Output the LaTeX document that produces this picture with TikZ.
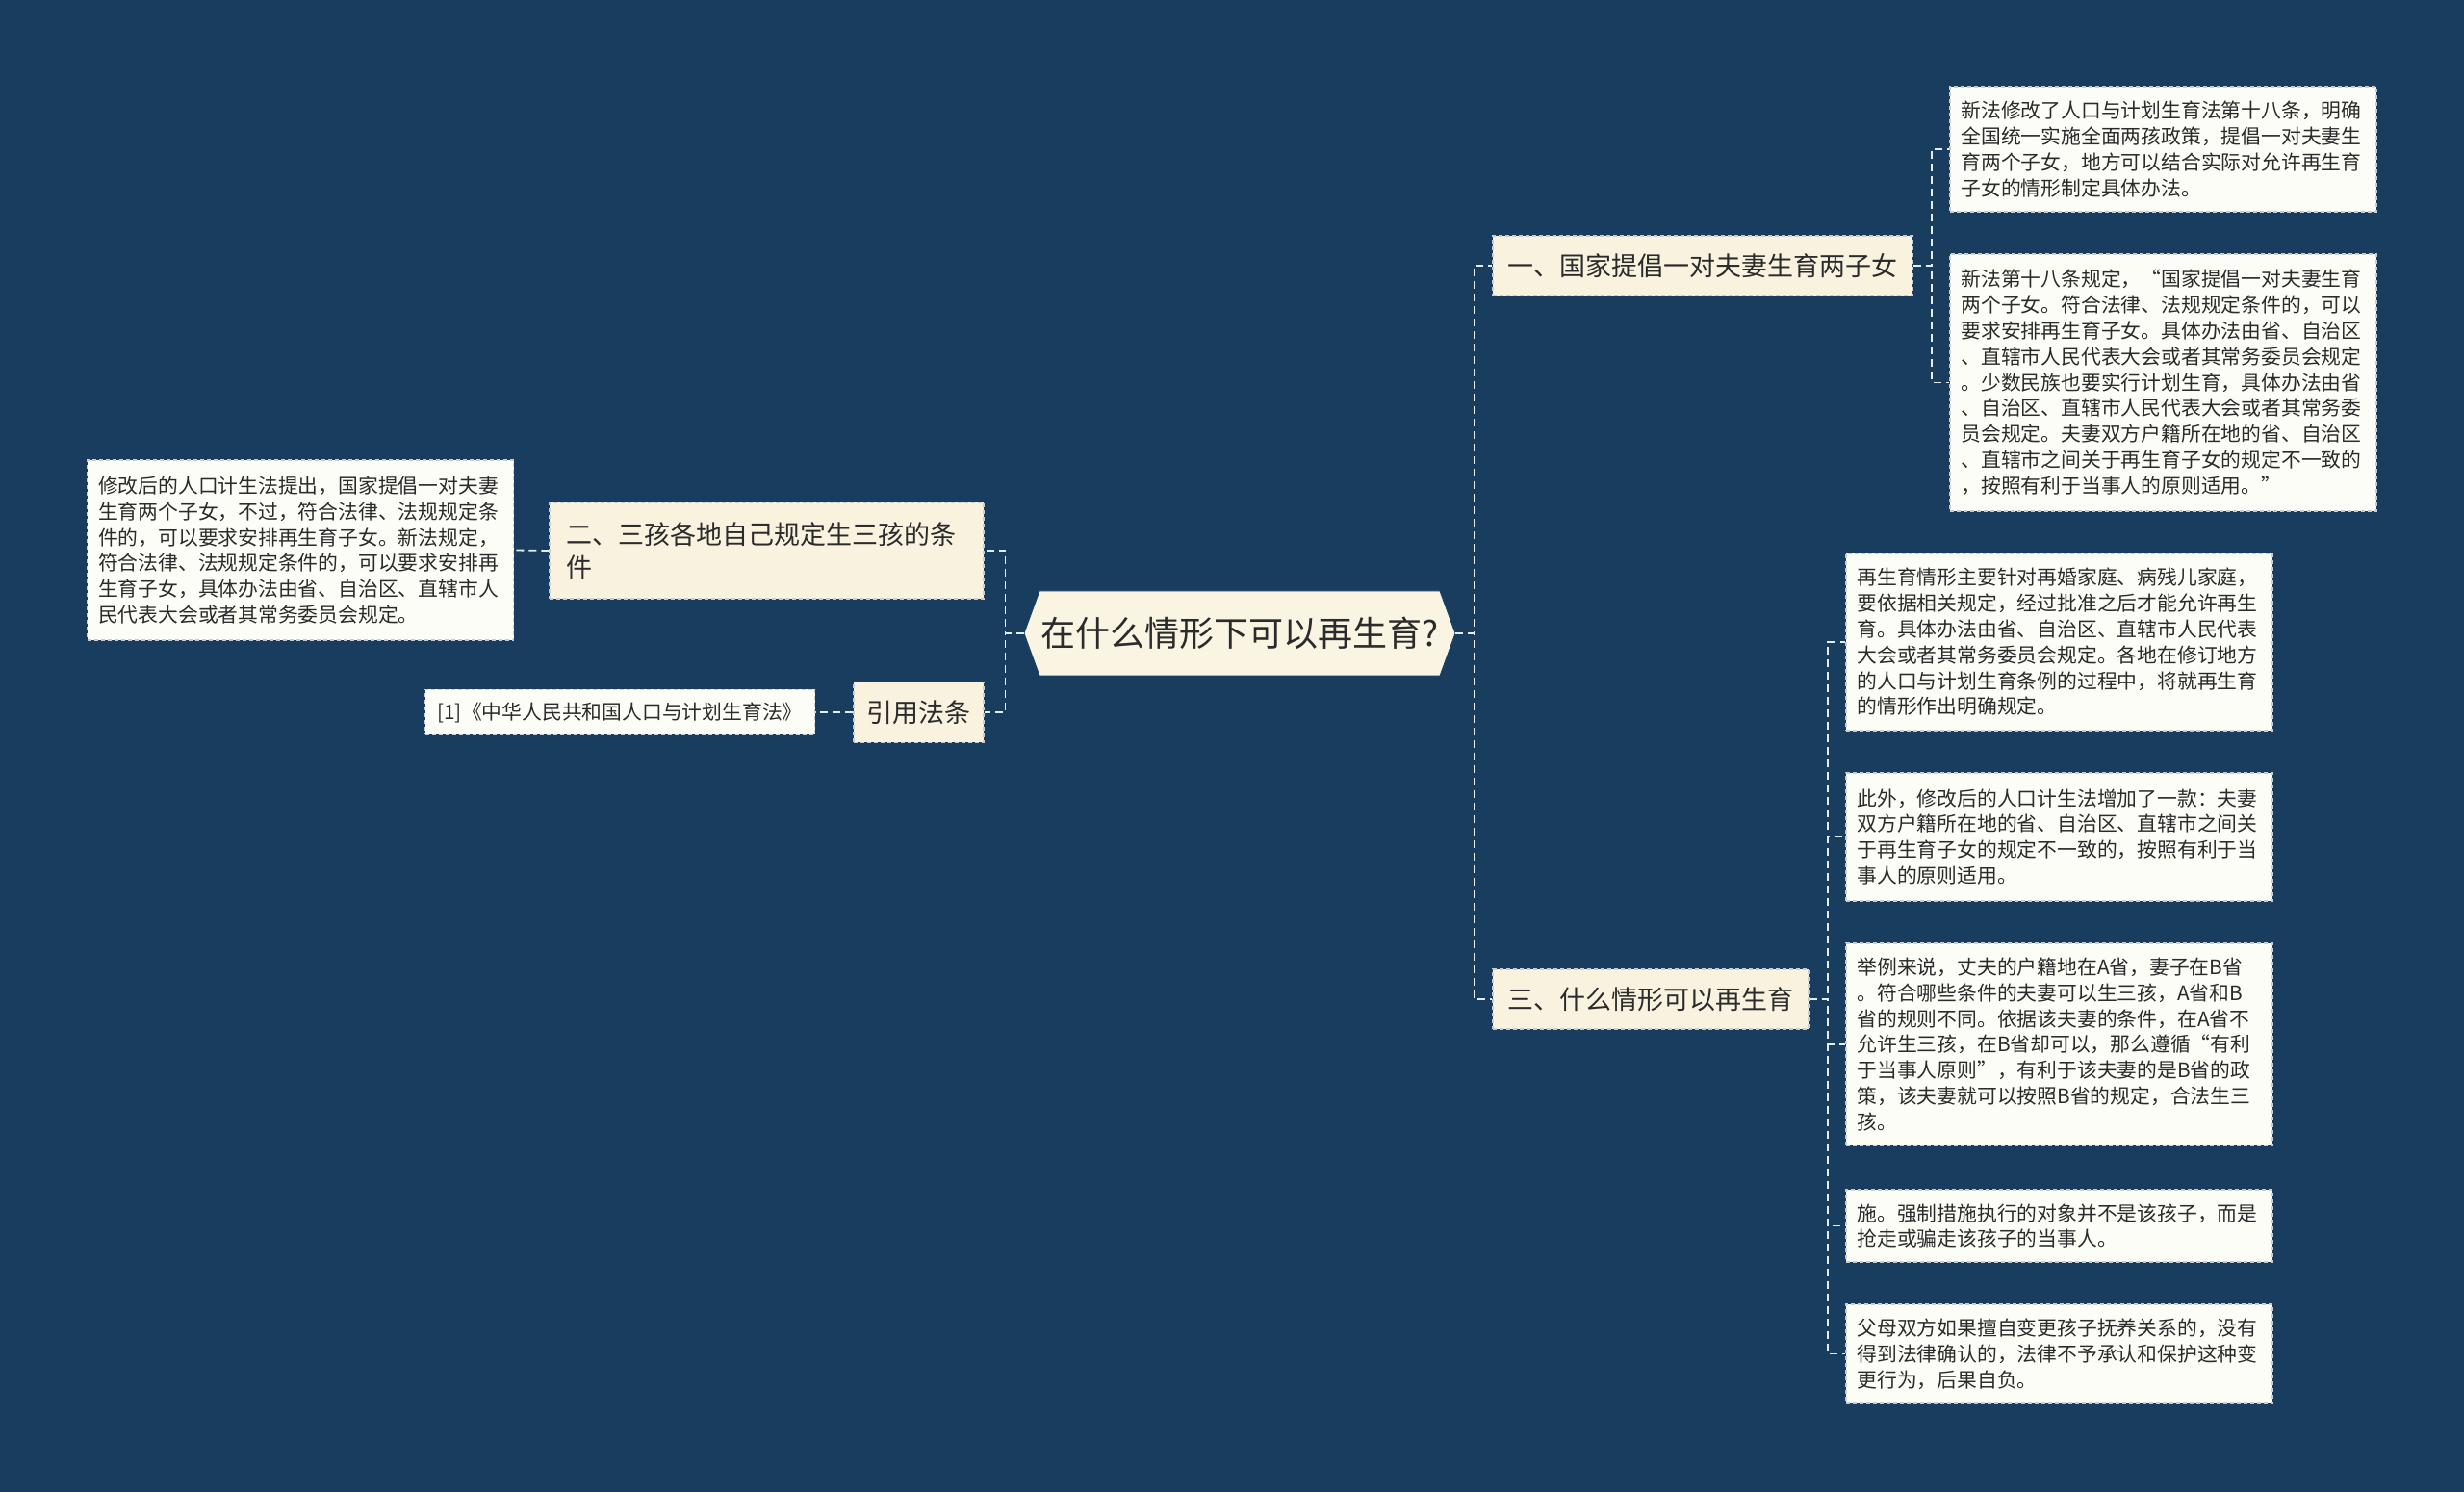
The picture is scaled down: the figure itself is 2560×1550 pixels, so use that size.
\documentclass[tikz,border=0pt]{standalone}
\usepackage{fontspec}
\setmainfont{Noto Sans CJK SC}
\usetikzlibrary{shapes.symbols}
\definecolor{bgc}{HTML}{193D5E}
\definecolor{branchc}{HTML}{F8F2DF}
\definecolor{rootc}{HTML}{FAF4E2}
\definecolor{leafc}{HTML}{FDFDF8}
\definecolor{txtc}{HTML}{2B2B2B}
\definecolor{bordc}{HTML}{C9CDD2}
\definecolor{connc}{HTML}{E6ECF1}
\tikzset{
  boxline/.style={draw=bordc, dash pattern=on 2pt off 1.5pt, line width=0.6pt},
  leaf/.style={boxline, fill=leafc, text=txtc, align=left, inner xsep=5.75pt, inner ysep=0pt,
    text width=210pt, font=\fontsize{10.4}{13.4}\selectfont},
  branch/.style={boxline, fill=branchc, text=txtc, inner xsep=6pt, inner ysep=0pt,
    font=\fontsize{13.5}{17}\selectfont},
  rootbox/.style={signal, signal to=west and east, signal pointer angle=140, fill=rootc, draw=bgc,
    text=txtc, inner sep=0pt, minimum width=224pt, minimum height=44pt, font=\fontsize{18}{22}\selectfont},
  conn/.style={draw=connc, dash pattern=on 4pt off 2.5pt, line width=0.9pt}
}
\begin{document}
\begin{tikzpicture}[x=0.5pt,y=-0.5pt]
\fill[bgc] (0,0) rectangle (2560,1550);
\useasboundingbox (0,0) rectangle (2560,1550);

\node[rootbox] (root) at (1288,658) {在什么情形下可以再生育?};

\node[branch, minimum width=218pt, minimum height=31pt] (n1) at (1769,276) {一、国家提倡一对夫妻生育两子女};
\node[branch, minimum width=164pt, minimum height=31pt] (n3) at (1715,1038) {三、什么情形可以再生育};
\node[branch, align=left, text width=208.5pt, inner xsep=8.5pt, minimum height=50pt] (n2) at (796.5,572) {二、三孩各地自己规定生三孩的条\\件};
\node[branch, minimum width=67.5pt, minimum height=31.5pt] (cite) at (954.5,740) {引用法条};

\node[leaf, minimum height=65pt] (l1) at (2247.5,155) {新法修改了人口与计划生育法第十八条，明确\\全国统一实施全面两孩政策，提倡一对夫妻生\\育两个子女，地方可以结合实际对允许再生育\\子女的情形制定具体办法。};
\node[leaf, minimum height=133.5pt] (l2) at (2247.5,397.5) {新法第十八条规定，“国家提倡一对夫妻生育\\两个子女。符合法律、法规规定条件的，可以\\要求安排再生育子女。具体办法由省、自治区\\、直辖市人民代表大会或者其常务委员会规定\\。少数民族也要实行计划生育，具体办法由省\\、自治区、直辖市人民代表大会或者其常务委\\员会规定。夫妻双方户籍所在地的省、自治区\\、直辖市之间关于再生育子女的规定不一致的\\，按照有利于当事人的原则适用。”};

\node[leaf, minimum height=92pt] (l3) at (2139.5,667) {再生育情形主要针对再婚家庭、病残儿家庭，\\要依据相关规定，经过批准之后才能允许再生\\育。具体办法由省、自治区、直辖市人民代表\\大会或者其常务委员会规定。各地在修订地方\\的人口与计划生育条例的过程中，将就再生育\\的情形作出明确规定。};
\node[leaf, minimum height=66.5pt] (l4) at (2139.5,869.5) {此外，修改后的人口计生法增加了一款：夫妻\\双方户籍所在地的省、自治区、直辖市之间关\\于再生育子女的规定不一致的，按照有利于当\\事人的原则适用。};
\node[leaf, minimum height=105pt] (l5) at (2139.5,1085) {举例来说，丈夫的户籍地在A省，妻子在B省\\。符合哪些条件的夫妻可以生三孩，A省和B\\省的规则不同。依据该夫妻的条件，在A省不\\允许生三孩，在B省却可以，那么遵循“有利\\于当事人原则”，有利于该夫妻的是B省的政\\策，该夫妻就可以按照B省的规定，合法生三\\孩。};
\node[leaf, minimum height=37.5pt] (l6) at (2139.5,1273.5) {施。强制措施执行的对象并不是该孩子，而是\\抢走或骗走该孩子的当事人。};
\node[leaf, minimum height=51.5pt] (l7) at (2139.5,1406.5) {父母双方如果擅自变更孩子抚养关系的，没有\\得到法律确认的，法律不予承认和保护这种变\\更行为，后果自负。};

\node[leaf, minimum height=93.5pt] (l0) at (312,571.5) {修改后的人口计生法提出，国家提倡一对夫妻\\生育两个子女，不过，符合法律、法规规定条\\件的，可以要求安排再生育子女。新法规定，\\符合法律、法规规定条件的，可以要求安排再\\生育子女，具体办法由省、自治区、直辖市人\\民代表大会或者其常务委员会规定。};
\node[leaf, text width=191pt, align=center, minimum height=23.5pt] (ref) at (644,740) {[1]《中华人民共和国人口与计划生育法》};

\draw[conn] (root.east) -- ++(19,0) |- (n1.west);
\draw[conn] (root.east) -- ++(19,0) |- (n3.west);
\draw[conn] (root.west) -- ++(-19,0) |- (n2.east);
\draw[conn] (root.west) -- ++(-19,0) |- (cite.east);
\draw[conn] (n1.east) -- ++(19.5,0) |- (l1.west);
\draw[conn] (n1.east) -- ++(19.5,0) |- (l2.west);
\draw[conn] (n3.east) -- ++(19.5,0) |- (l3.west);
\draw[conn] (n3.east) -- ++(19.5,0) |- (l4.west);
\draw[conn] (n3.east) -- ++(19.5,0) |- (l5.west);
\draw[conn] (n3.east) -- ++(19.5,0) |- (l6.west);
\draw[conn] (n3.east) -- ++(19.5,0) |- (l7.west);
\draw[conn] (n2.west) -- (l0.east);
\draw[conn] (cite.west) -- (ref.east);
\end{tikzpicture}
\end{document}
